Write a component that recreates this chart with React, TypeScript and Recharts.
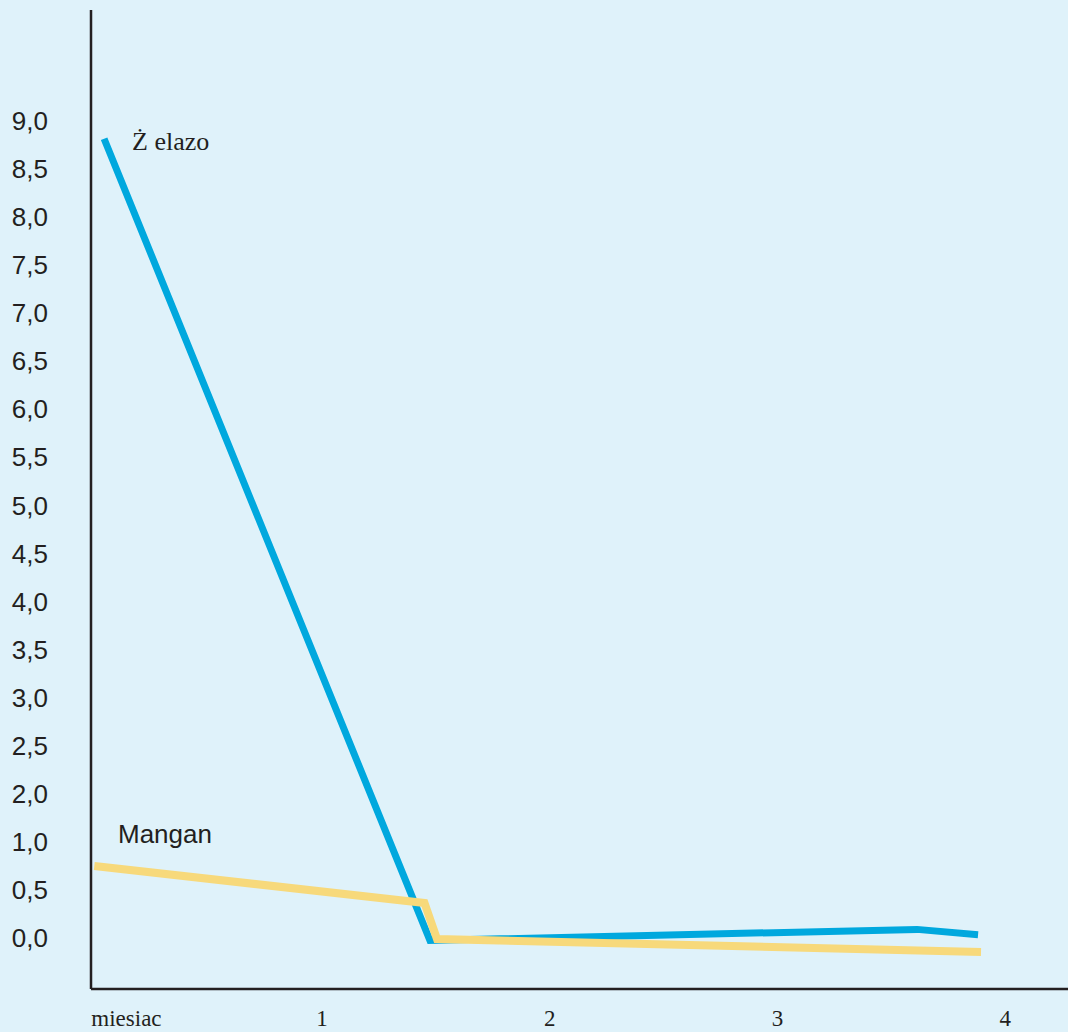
import React from 'react';
import { LineChart, Line, XAxis, YAxis, ReferenceDot } from 'recharts';

// Printed y tick labels (note: the original axis skips 1,5 — labels are evenly spaced)
const yTickValues = [0, 0.5, 1, 2, 2.5, 3, 3.5, 4, 4.5, 5, 5.5, 6, 6.5, 7, 7.5, 8, 8.5, 9];
const yTickLabels = ['0,0', '0,5', '1,0', '2,0', '2,5', '3,0', '3,5', '4,0', '4,5', '5,0', '5,5', '6,0', '6,5', '7,0', '7,5', '8,0', '8,5', '9,0'];

const xTickValues = [0, 1, 2, 3, 4];
const xTickLabels = ['miesiac', '1', '2', '3', '4'];

// Żelazo (iron) series: month, value
const zelazoMonths = [0.043, 1.474, 3.613, 3.881];
const zelazoValues = [8.82, -0.03, 0.085, 0.03];

// Mangan series
const manganMonths = [0, 1.45, 1.505, 3.894];
const manganValues = [0.745, 0.36, -0.015, -0.15];

// Map a printed value to its evenly spaced axis position
const toPos = (v: number): number => {
  const step = 0.5;
  if (v <= yTickValues[0]) return v;
  for (let i = 0; i < yTickValues.length - 1; i++) {
    const a = yTickValues[i];
    const b = yTickValues[i + 1];
    if (v >= a && v <= b) {
      return i * step + ((v - a) / (b - a)) * step;
    }
  }
  const last = yTickValues.length - 1;
  return last * step + (v - yTickValues[last]);
};

const yTickPositions = yTickValues.map((_, i) => i * 0.5);

const zelazoData = zelazoMonths.map((m, i) => ({ x: m, y: toPos(zelazoValues[i]) }));
const manganData = manganMonths.map((m, i) => ({ x: m, y: toPos(manganValues[i]) }));

const BG = '#dff2fa';
const AXIS = '#231f20';
const BLUE = '#00a8de';
const YELLOW = '#f7d97b';

const YTick = (props: any) => {
  const { y, payload } = props;
  const idx = yTickPositions.findIndex((p) => Math.abs(p - payload.value) < 1e-6);
  const label = idx >= 0 ? yTickLabels[idx] : '';
  return (
    <text x={48} y={y} dy={9} textAnchor="end" fontFamily="'Liberation Sans', Arial, sans-serif" fontSize={26} fill="#231f20">
      {label}
    </text>
  );
};

const XTick = (props: any) => {
  const { x, payload } = props;
  const idx = xTickValues.indexOf(payload.value);
  const label = idx >= 0 ? xTickLabels[idx] : '';
  const first = idx === 0;
  return (
    <text
      x={first ? x - 3 : x}
      y={1026}
      textAnchor={first ? 'start' : 'middle'}
      fontFamily="'Liberation Serif', 'Times New Roman', serif"
      fontSize={23}
      fill="#231f20"
    >
      {label}
    </text>
  );
};

const makeLabel = (text: string, family: string, size: number) => (props: any) => {
  const vb = props.viewBox || {};
  return (
    <text x={vb.x} y={vb.y} textAnchor="start" fontFamily={family} fontSize={size} fill="#231f20">
      {text}
    </text>
  );
};

export default function App() {
  return (
    <div style={{ position: 'absolute', left: 0, top: 0, width: 1068, height: 1032, background: BG, overflow: 'hidden' }}>
      <LineChart width={1068} height={1032} margin={{ top: 10, right: 0, left: 0, bottom: 0 }}>
        <XAxis
          dataKey="x"
          type="number"
          domain={[-0.0145, 4.276]}
          ticks={xTickValues}
          tick={<XTick />}
          tickLine={false}
          axisLine={{ stroke: AXIS, strokeWidth: 2.5 }}
          height={43}
          allowDataOverflow
          interval={0}
        />
        <YAxis
          type="number"
          domain={[-0.536, 9.661]}
          ticks={yTickPositions}
          tick={<YTick />}
          tickLine={false}
          axisLine={{ stroke: AXIS, strokeWidth: 2.5 }}
          width={91}
          allowDataOverflow
          interval={0}
        />
        <Line
          data={zelazoData}
          dataKey="y"
          type="linear"
          stroke={BLUE}
          strokeWidth={7}
          dot={false}
          activeDot={false}
          isAnimationActive={false}
          strokeLinejoin="miter"
        />
        <Line
          data={manganData}
          dataKey="y"
          type="linear"
          stroke={YELLOW}
          strokeWidth={8}
          dot={false}
          activeDot={false}
          isAnimationActive={false}
          strokeLinejoin="miter"
        />
        <ReferenceDot
          x={0.166}
          y={8.203}
          r={0}
          fill="none"
          stroke="none"
          label={makeLabel('Ż elazo', "'Liberation Serif', 'Times New Roman', serif", 26)}
        />
        <ReferenceDot
          x={0.104}
          y={0.984}
          r={0}
          fill="none"
          stroke="none"
          label={makeLabel('Mangan', "'Liberation Sans', Arial, sans-serif", 26)}
        />
      </LineChart>
    </div>
  );
}
